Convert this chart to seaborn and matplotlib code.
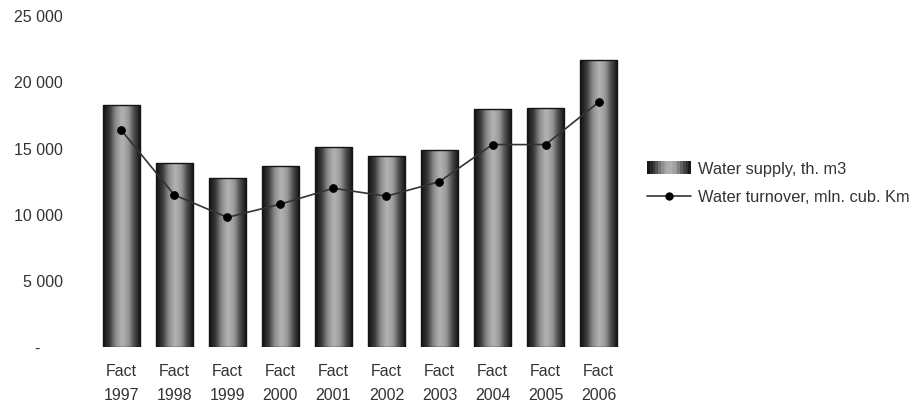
import numpy as np
import pandas as pd
import seaborn as sns
import matplotlib
matplotlib.use("Agg")
import matplotlib.pyplot as plt
from matplotlib.colors import LinearSegmentedColormap
from matplotlib.patches import Rectangle
from matplotlib.lines import Line2D
from matplotlib.legend_handler import HandlerBase
from matplotlib.ticker import FuncFormatter

years = ["1997", "1998", "1999", "2000", "2001", "2002", "2003", "2004", "2005", "2006"]
water_supply = [18300, 13900, 12800, 13700, 15100, 14400, 14900, 18000, 18100, 21700]
water_turnover = [16400, 11500, 9800, 10800, 12000, 11400, 12500, 15300, 15300, 18500]

labels = ["Fact\n" + y for y in years]
df = pd.DataFrame({"label": labels, "supply": water_supply, "turnover": water_turnover})

sns.set_style("white")
plt.rcParams["font.family"] = ["Liberation Sans", "DejaVu Sans"]

# cylinder look for the bars
cyl = LinearSegmentedColormap.from_list(
    "cyl", ["#111111", "#3a3a3a", "#8c8c8c", "#b4b4b4", "#9a9a9a", "#4a4a4a", "#111111"])
grad = np.linspace(0, 1, 64).reshape(1, -1)

fig = plt.figure(figsize=(9.1, 4.05), dpi=100)
ax = fig.add_axes([0.104, 0.143, 0.583, 0.817])

sns.barplot(data=df, x="label", y="supply", color="#111111", width=0.7,
            saturation=1, ax=ax, zorder=2)
for p in ax.patches:
    x0, y0 = p.get_x(), p.get_y()
    w, h = p.get_width(), p.get_height()
    im = ax.imshow(grad, cmap=cyl, aspect="auto", extent=[x0, x0 + w, y0, y0 + h],
                   zorder=2.5, interpolation="bicubic")
    im.set_clip_path(p)
    p.set_facecolor("none")
    p.set_edgecolor("#151515")
    p.set_linewidth(1.0)
    p.set_zorder(2.6)

sns.lineplot(x=np.arange(len(years)), y=water_turnover, color="#333333", linewidth=1.2,
             marker="o", markersize=5.5, markerfacecolor="black", markeredgecolor="black",
             ax=ax, zorder=3)

ax.set_xlim(-0.5, len(years) - 0.5)
ax.set_ylim(0, 25000)
ax.set_yticks(range(0, 25001, 5000))
ax.yaxis.set_major_formatter(FuncFormatter(
    lambda v, _: "-     " if v == 0 else f"{int(v):,}".replace(",", " ")))
ax.set_xlabel("")
ax.set_ylabel("")
ax.tick_params(axis="y", labelsize=11.5, colors="#333333", length=0, pad=23)
ax.tick_params(axis="x", labelsize=11.5, colors="#333333", length=0, pad=12.5)
for t in ax.get_xticklabels():
    t.set_linespacing(1.7)
sns.despine(ax=ax, left=True, bottom=True)


class GradHandler(HandlerBase):
    def create_artists(self, legend, orig_handle, xd, yd, width, height, fontsize, trans):
        n = 16
        arts = []
        for i in range(n):
            c = cyl((i + 0.5) / n)
            r = Rectangle((xd + width * i / n, yd), width / n, height,
                          facecolor=c, edgecolor="none", transform=trans)
            arts.append(r)
        return arts


bar_handle = Rectangle((0, 0), 1, 1)
line_handle = Line2D([], [], color="#333333", linewidth=1.2, marker="o",
                     markersize=5, markerfacecolor="black", markeredgecolor="black")
fig.legend([bar_handle, line_handle],
           ["Water supply, th. m3", "Water turnover, mln. cub. Km"],
           handler_map={Rectangle: GradHandler()},
           loc="center left", bbox_to_anchor=(0.711, 0.547), frameon=False,
           fontsize=11.8, handlelength=2.7, handleheight=0.8, handletextpad=0.4,
           labelspacing=0.75, borderaxespad=0, borderpad=0, labelcolor="#333333")

fig.savefig("out.png", dpi=100)
